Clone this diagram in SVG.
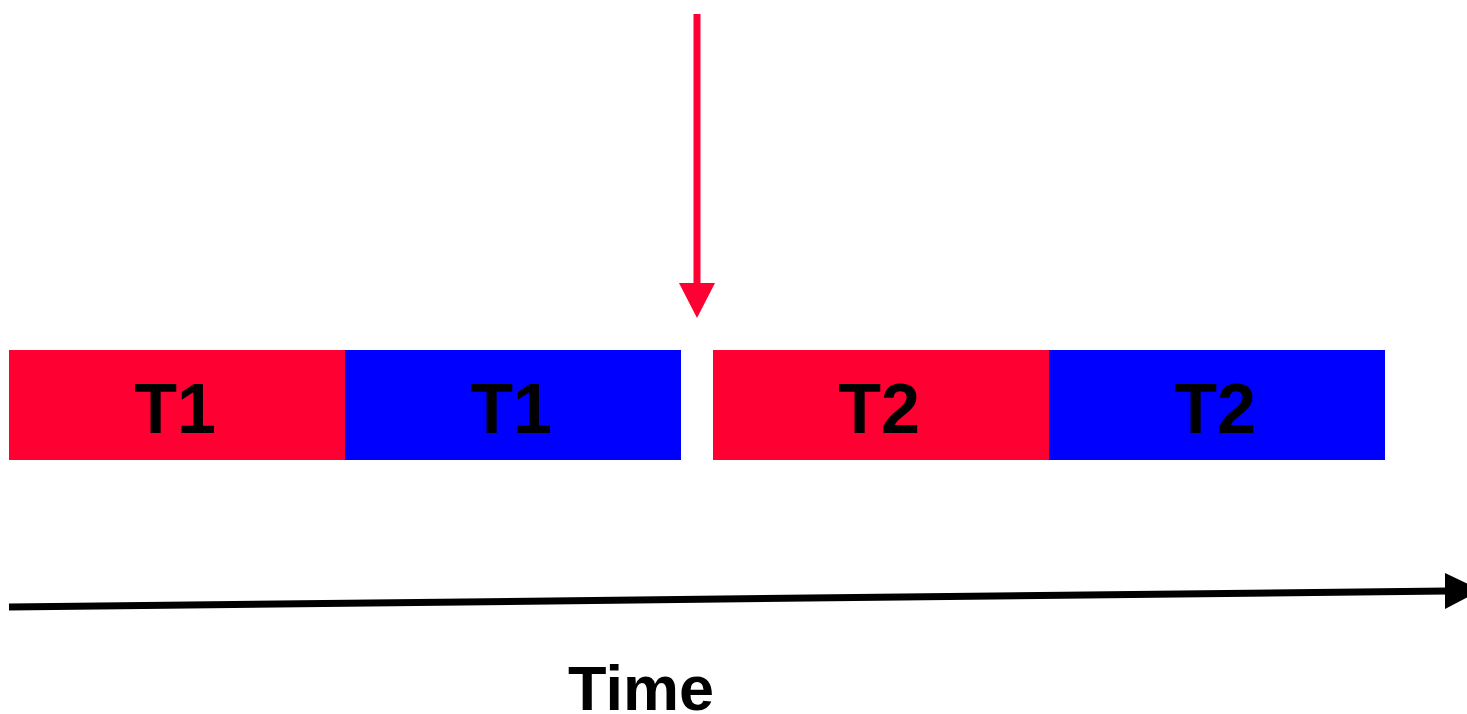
<svg xmlns="http://www.w3.org/2000/svg" width="1467" height="714" viewBox="0 0 1467 714">
  <style>
    .red { fill: #FF0033; }
    .blue { fill: #0000FF; }
    .lbl { font-family: "Liberation Sans", Arial, sans-serif; font-weight: bold; font-size: 70px; fill: #000; text-anchor: middle; }
    .time { font-family: "Liberation Sans", Arial, sans-serif; font-weight: bold; font-size: 63px; fill: #000; text-anchor: middle; }
  </style>
  <rect width="1467" height="714" fill="#FFFFFF"/>

  <g id="t1-red">
    <rect class="red" x="9" y="350" width="336" height="110"/>
    <text class="lbl" x="175" y="433">T1</text>
  </g>
  <g id="t1-blue">
    <rect class="blue" x="345" y="350" width="336" height="110"/>
    <text class="lbl" x="511" y="433">T1</text>
  </g>
  <g id="t2-red">
    <rect class="red" x="713" y="350" width="336" height="110"/>
    <text class="lbl" x="879" y="433">T2</text>
  </g>
  <g id="t2-blue">
    <rect class="blue" x="1049" y="350" width="336" height="110"/>
    <text class="lbl" x="1215" y="433">T2</text>
  </g>

  <g id="connectors">
    <!-- downward marker arrow -->
    <line x1="697" y1="14" x2="697" y2="285" stroke="#FF0033" stroke-width="7"/>
    <polygon points="679,283 715,283 697,318" fill="#FF0033"/>
    <!-- time axis -->
    <line x1="9" y1="607" x2="1447" y2="591" stroke="#000" stroke-width="7"/>
    <polygon points="1445,573 1445,609 1481,590" fill="#000"/>
  </g>

  <g id="time-label">
    <text class="time" x="641" y="710">Time</text>
  </g>
</svg>
